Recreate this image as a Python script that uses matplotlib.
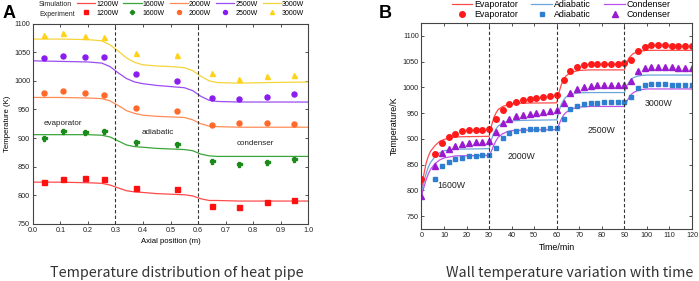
import matplotlib
matplotlib.use("Agg")
import matplotlib.pyplot as plt

plt.rcParams['font.family'] = ['Liberation Sans', 'DejaVu Sans']

# ---------------- panel A data ----------------
powers = ["1200W", "1600W", "2000W", "2500W", "3000W"]
a_line_colors = ["#ff4a4a", "#3aa63a", "#ff8c55", "#9b4cf2", "#f5d43a"]
a_mark_colors = ["#ff1010", "#1a8a1a", "#ff6a2a", "#8a1cf0", "#ffd21a"]
a_markers = ["s", "P", "o", "o", "^"]

sim_x = [0, 0.1, 0.2, 0.25, 0.28, 0.31, 0.34, 0.37, 0.40, 0.45, 0.50,
         0.55, 0.58, 0.61, 0.64, 0.67, 0.75, 0.85, 1.0]
sim_1200 = [823, 823, 822, 821, 818, 813, 808, 806, 805, 803, 802, 801, 799, 794, 791, 791, 790, 790, 790]
sim_1600 = [906, 906, 906, 905, 902, 895, 888, 885, 884, 882, 881, 880, 878, 872, 869, 868, 868, 868, 868]
sim_2000 = [971, 971, 970, 969, 965, 957, 948, 943, 940, 938, 937, 936, 932, 925, 921, 920, 919, 919, 919]
sim_2500 = [1035, 1034, 1033, 1031, 1025, 1014, 1004, 998, 995, 992, 990, 988, 983, 973, 966, 964, 963, 963, 963]
sim_3000 = [1073, 1073, 1072, 1070, 1063, 1052, 1040, 1032, 1028, 1026, 1025, 1023, 1018, 1008, 1000, 997, 996, 997, 998]

exp_x = [0.04, 0.11, 0.19, 0.26, 0.375, 0.525, 0.65, 0.75, 0.85, 0.95]
exp_1200 = [823, 828, 830, 828, 813, 811, 782, 779, 788, 792]
exp_1600 = [901, 912, 911, 912, 893, 889, 860, 855, 859, 863]
exp_2000 = [978, 982, 979, 975, 952, 948, 923, 927, 926, 925]
exp_2500 = [1040, 1043, 1041, 1041, 1012, 999, 970, 968, 972, 977]
exp_3000 = [1080, 1083, 1078, 1077, 1048, 1045, 1013, 1003, 1008, 1011]

sims = [sim_1200, sim_1600, sim_2000, sim_2500, sim_3000]
exps = [exp_1200, exp_1600, exp_2000, exp_2500, exp_3000]

# ---------------- panel B data ----------------
sim_time = [0, 1, 2, 3, 4, 6, 8, 10, 15,
            30, 31, 32, 33, 34, 36, 38, 40, 45,
            60, 61, 62, 63, 64, 66, 68, 70, 75,
            90, 91, 92, 93, 94, 96, 98, 100, 105, 120]
sim_evap = [800, 830, 852, 866, 876, 887, 895, 899, 904,
            905, 925, 940, 950, 957, 963, 966, 968, 969.5,
            970, 990, 1005, 1015, 1022, 1028, 1031, 1033, 1034,
            1034, 1048, 1057, 1062, 1066, 1069, 1071, 1072, 1072, 1072]
sim_adia = [795, 815, 832, 845, 854, 866, 873, 877, 880,
            881, 898, 911, 919, 925, 931, 934, 935, 936,
            937, 954, 967, 975, 981, 986, 988, 989.5, 990,
            990, 1002, 1010, 1015, 1019, 1022, 1023.5, 1024, 1024, 1024]
sim_cond = [790, 805, 820, 832, 841, 852, 859, 863, 867,
            868, 876, 887, 896, 903, 910, 914, 916, 917,
            918, 928, 938, 946, 951, 957, 960, 962, 963,
            963, 972, 980, 986, 990, 994, 996, 997, 997, 997]

exp_time = [0, 6, 9, 12, 15, 18, 21, 24, 27, 30,
            33, 36, 39, 42, 45, 48, 51, 54, 57, 60,
            63, 66, 69, 72, 75, 78, 81, 84, 87, 90,
            93, 96, 99, 102, 105, 108, 111, 114, 117, 120]
exp_evap = [823, 870, 893, 904, 910, 915, 917, 918, 918, 919,
            939, 957, 968, 972, 975, 977, 979, 981, 983, 985,
            1015, 1032, 1040, 1044, 1045, 1046, 1046, 1046, 1046, 1047,
            1054, 1071, 1079, 1082, 1082, 1082, 1081, 1080, 1080, 1080]
exp_cond = [790, 847, 872, 880, 886, 891, 893, 894, 894, 895,
            913, 931, 939, 945, 947, 949, 951, 953, 955, 956,
            970, 990, 996, 1000, 1002, 1004, 1005, 1005, 1005, 1005,
            1013, 1031, 1038, 1039, 1039, 1039, 1039, 1038, 1038, 1037]
exp_time_adia = exp_time[1:]
exp_adia = [823, 847, 855, 860, 863, 866, 867, 868, 869,
            882, 901, 912, 916, 918, 919, 919, 920, 921, 922,
            939, 959, 964, 967, 969, 970, 971, 971, 971, 971,
            982, 998, 1005, 1006, 1006, 1006, 1005, 1005, 1004, 1004]

fs = 5.2
fig = plt.figure(figsize=(6.99, 2.81), dpi=100)
axA = fig.add_axes([0.047, 0.203, 0.394, 0.713])
axB = fig.add_axes([0.603, 0.185, 0.387, 0.733])

def style(ax):
    ax.tick_params(direction='in', length=2.5, width=0.6, labelsize=fs, pad=2,
                   top=True, right=True, colors='#333333', labelcolor='#222222')
    for s in ax.spines.values():
        s.set_linewidth(0.8)
        s.set_color('#444444')

# ---- A ----
hh, ll = [], []
for i, p in enumerate(powers):
    l, = axA.plot(sim_x, sims[i], color=a_line_colors[i], lw=0.9)
    m, = axA.plot(exp_x, exps[i], ls='none', marker=a_markers[i], ms=3.6,
                  color=a_mark_colors[i], mec=a_mark_colors[i])
    hh += [l, m]
    ll += [p, p]
for xv in [0.3, 0.6]:
    axA.axvline(xv, color='#333333', ls=(0, (3, 2)), lw=0.8)
axA.set_xlim(0, 1.0)
axA.set_ylim(750, 1100)
axA.set_xticks([0.0, 0.1, 0.2, 0.3, 0.4, 0.5, 0.6, 0.7, 0.8, 0.9, 1.0])
axA.set_yticks(range(750, 1101, 50))
style(axA)
axA.set_xlabel("Axial position (m)", fontsize=fs + 0.4, labelpad=3)
axA.set_ylabel("Temperature (K)", fontsize=fs + 0.4, labelpad=2)
axA.text(0.11, 926, "evaporator", fontsize=5.8, ha='center', va='center', color='#222222')
axA.text(0.455, 909, "adiabatic", fontsize=5.8, ha='center', va='center', color='#222222')
axA.text(0.807, 890, "condenser", fontsize=5.8, ha='center', va='center', color='#222222')

# legend columns: one per power, line on top row, marker below
fig.legend(hh, ll, ncol=5, fontsize=5.0, frameon=False, loc='upper left',
           bbox_to_anchor=(0.110, 0.998), borderaxespad=0, borderpad=0,
           handlelength=2.6, handletextpad=0.15, columnspacing=0.75,
           labelspacing=0.3, markerscale=0.8)
fig.text(0.056, 0.983, "Simulation", fontsize=5.0, va='center', color='#222222')
fig.text(0.056, 0.950, "Experiment", fontsize=5.0, va='center', color='#222222')

# ---- B ----
c_evap, c_adia, c_cond = "#ff4c4c", "#6aa6dc", "#c050e8"
m_evap, m_adia, m_cond = "#ff1a1a", "#2f7fd0", "#9a1ad0"
le, = axB.plot(sim_time, sim_evap, color=c_evap, lw=0.9)
la, = axB.plot(sim_time, sim_adia, color=c_adia, lw=0.9)
lc, = axB.plot(sim_time, sim_cond, color=c_cond, lw=0.9)
me, = axB.plot(exp_time, exp_evap, ls='none', marker='o', ms=4.0, color=m_evap)
ma, = axB.plot(exp_time_adia, exp_adia, ls='none', marker='s', ms=3.3, color=m_adia)
mc, = axB.plot(exp_time, exp_cond, ls='none', marker='^', ms=4.0, color=m_cond)
for xv in [30, 60, 90]:
    axB.axvline(xv, color='#333333', ls=(0, (3, 2)), lw=0.8)
axB.set_xlim(0, 120)
axB.set_ylim(725, 1125)
axB.set_xticks(range(0, 121, 10))
axB.set_yticks(range(750, 1101, 50))
style(axB)
axB.set_xlabel("Time/min", fontsize=6.4, labelpad=3)
axB.set_ylabel("Temperature/K", fontsize=6.4, labelpad=3)
axB.text(13.3, 810, "1600W", fontsize=6.3, ha='center', va='center', color='#222222')
axB.text(44.4, 866, "2000W", fontsize=6.3, ha='center', va='center', color='#222222')
axB.text(80, 916, "2500W", fontsize=6.3, ha='center', va='center', color='#222222')
axB.text(105, 969, "3000W", fontsize=6.3, ha='center', va='center', color='#222222')
fig.legend([le, me, la, ma, lc, mc],
           ["Evaporator", "Evaporator", "Adiabatic", "Adiabatic", "Condenser", "Condenser"],
           ncol=3, fontsize=6.4, frameon=False, loc='upper left',
           bbox_to_anchor=(0.646, 1.0), borderaxespad=0, borderpad=0,
           handlelength=2.3, handletextpad=0.25, columnspacing=1.5,
           labelspacing=0.15)

# panel letters and captions
fig.text(0.004, 0.952, "A", fontsize=13, fontweight='bold', va='center')
fig.text(0.542, 0.952, "B", fontsize=13, fontweight='bold', va='center')
fig.text(0.253, 0.03, "Temperature distribution of heat pipe", fontsize=10.3,
         ha='center', va='center', family=['Noto Sans CJK SC', 'DejaVu Sans'],
         fontweight='light', color='#333333')
fig.text(0.815, 0.03, "Wall temperature variation with time", fontsize=10.3,
         ha='center', va='center', family=['Noto Sans CJK SC', 'DejaVu Sans'],
         fontweight='light', color='#333333')

fig.savefig("out.png", dpi=100)
